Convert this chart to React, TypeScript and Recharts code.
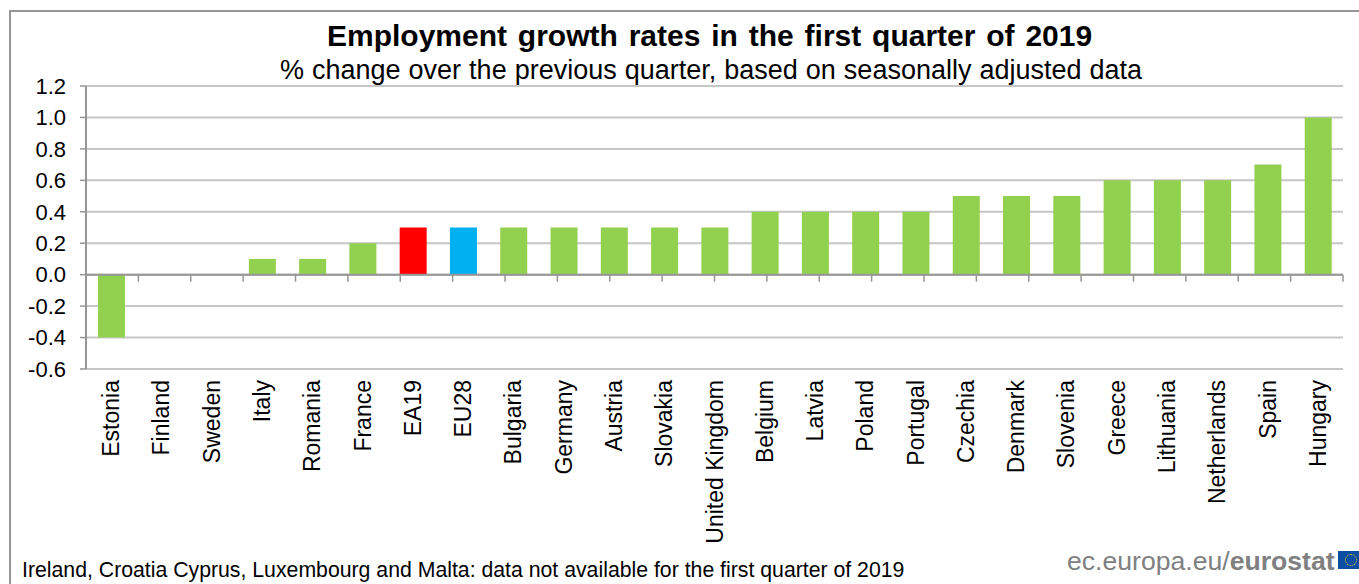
import { BarChart, Bar, Cell, XAxis, YAxis, CartesianGrid, ReferenceLine } from "recharts";

const countries = [
  "Estonia", "Finland", "Sweden", "Italy", "Romania", "France", "EA19", "EU28", "Bulgaria",
  "Germany", "Austria", "Slovakia", "United Kingdom", "Belgium", "Latvia", "Poland", "Portugal",
  "Czechia", "Denmark", "Slovenia", "Greece", "Lithuania", "Netherlands", "Spain", "Hungary",
];
const growth = [
  -0.4, 0, 0, 0.1, 0.1, 0.2, 0.3, 0.3, 0.3, 0.3, 0.3, 0.3, 0.3, 0.4, 0.4, 0.4, 0.4, 0.5, 0.5, 0.5,
  0.6, 0.6, 0.6, 0.7, 1.0,
];
const yTicks = [-0.6, -0.4, -0.2, 0, 0.2, 0.4, 0.6, 0.8, 1.0, 1.2];

const data = countries.map((country, i) => ({ country, growth: growth[i] }));
const boundaries = countries.map((_, i) => i + 1);

const FONT = '"Liberation Sans", Arial, sans-serif';

const barColor = (country: string) => {
  if (country === "EA19") return "#ff0000";
  if (country === "EU28") return "#00b0f0";
  return "#92d050";
};

function CountryTick({ x, y, payload }: any) {
  return (
    <text
      transform={`translate(${x + 8},${y + 3}) rotate(-90)`}
      textAnchor="end"
      fontFamily={FONT}
      fontSize={23}
      fill="#000"
    >
      {payload.value}
    </text>
  );
}

function Caption({ left, top, size, bold, color, wordSpacing, children }: any) {
  return (
    <div
      style={{
        position: "absolute",
        left,
        top,
        fontFamily: FONT,
        fontSize: size,
        fontWeight: bold ? 700 : 400,
        color: color || "#000",
        wordSpacing: wordSpacing || 0,
        whiteSpace: "nowrap",
        lineHeight: 1,
      }}
    >
      {children}
    </div>
  );
}

export default function App() {
  return (
    <div style={{ position: "absolute", left: 0, top: 0, width: 1359, height: 584, background: "#fff", overflow: "hidden" }}>
      <div style={{ position: "absolute", left: 9, top: 10, width: 1350, height: 574, borderLeft: "2px solid #969696", borderTop: "2px solid #969696" }} />
      <BarChart
        width={1359}
        height={584}
        data={data}
        margin={{ top: 86, right: 16, bottom: 0, left: 0 }}
        barCategoryGap={0}
        style={{ position: "absolute", left: 0, top: 0 }}
      >
        <CartesianGrid vertical={false} stroke="#c6c6c6" strokeWidth={2} />
        <XAxis
          dataKey="country"
          interval={0}
          height={215}
          axisLine={false}
          tickLine={false}
          tick={<CountryTick />}
        />
        <XAxis xAxisId="marks" type="number" domain={[0, 25]} hide />
        <YAxis
          width={86}
          domain={[-0.6, 1.2]}
          ticks={yTicks}
          interval={0}
          tickFormatter={(v: number) => v.toFixed(1)}
          axisLine={{ stroke: "#969696", strokeWidth: 2 }}
          tickLine={{ stroke: "#969696", strokeWidth: 1.5 }}
          tickSize={6}
          tickMargin={14}
          tick={{ fill: "#000", fontSize: 22, fontFamily: FONT }}
        />
        <Bar dataKey="growth" barSize={27} isAnimationActive={false}>
          {data.map((d) => (
            <Cell key={d.country} fill={barColor(d.country)} />
          ))}
        </Bar>
        <ReferenceLine y={0} stroke="#969696" strokeWidth={2} />
        {boundaries.map((b) => (
          <ReferenceLine
            key={b}
            xAxisId="marks"
            segment={[{ x: b, y: 0 }, { x: b, y: -0.045 }]}
            stroke="#969696"
            strokeWidth={1.5}
          />
        ))}
      </BarChart>
      <Caption left={327} top={21} size={30} bold wordSpacing={2.5}>Employment growth rates in the first quarter of 2019</Caption>
      <Caption left={280} top={57} size={27} wordSpacing={0.5}>% change over the previous quarter, based on seasonally adjusted data</Caption>
      <Caption left={22} top={560} size={21.25}>Ireland, Croatia Cyprus, Luxembourg and Malta: data not available for the first quarter of 2019</Caption>
      <Caption left={1067} top={548} size={26.6} color="#808080">
        ec.europa.eu/<b>eurostat</b>
      </Caption>
      <div style={{ position: "absolute", left: 1338, top: 551, width: 21, height: 18, background: "#0b4ea2" }}>
        <div style={{ position: "absolute", left: 7, top: 3, width: 10, height: 10, borderRadius: "50%", border: "1.5px dotted #ffd617" }} />
      </div>
    </div>
  );
}
